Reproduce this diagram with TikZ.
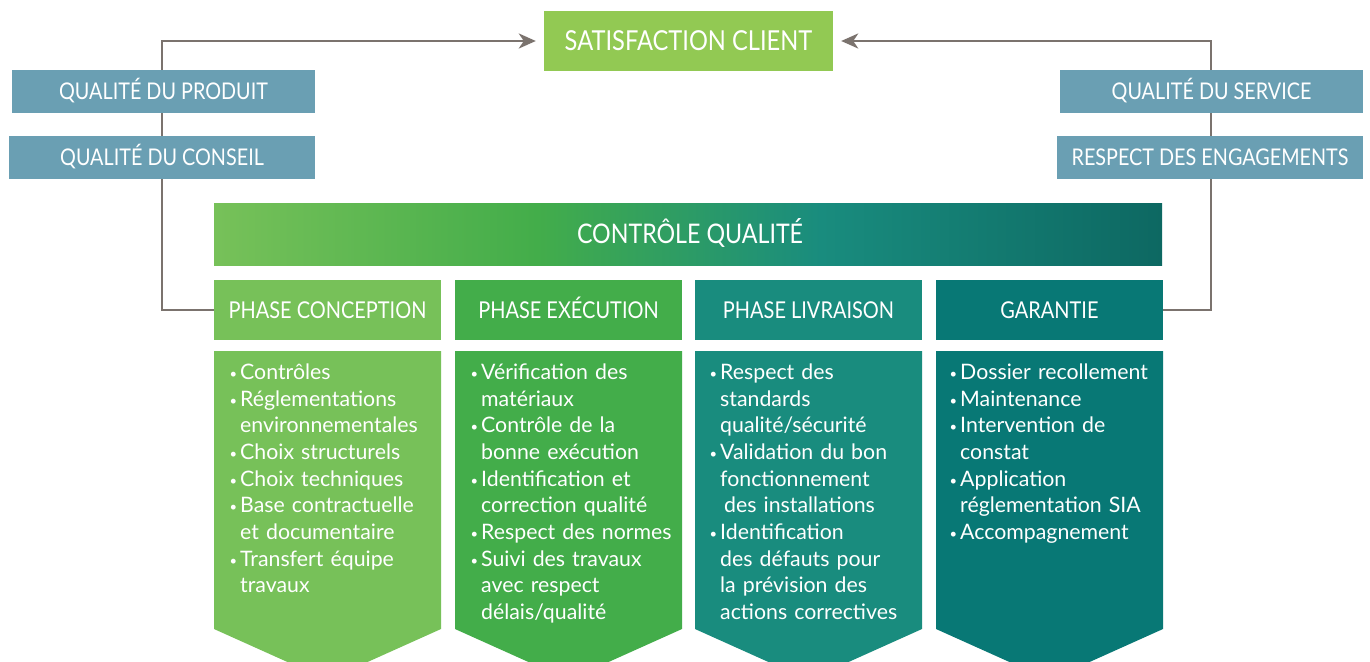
\documentclass[tikz,border=0pt]{standalone}
\usepackage{fontspec}
\setmainfont{Lato}
\newfontfamily\hdfont[FakeStretch=0.86]{Lato}
\usetikzlibrary{arrows.meta}
\definecolor{satc}{HTML}{92C953}
\definecolor{qbox}{HTML}{6A9FB3}
\definecolor{cA}{HTML}{77C159}
\definecolor{cB}{HTML}{43AD4A}
\definecolor{cC}{HTML}{198C7E}
\definecolor{cD}{HTML}{087875}
\definecolor{cE}{HTML}{0D6862}
\definecolor{linec}{HTML}{7B736E}
\pgfdeclarehorizontalshading{cqshade}{100bp}{color(0bp)=(cA); color(25bp)=(cA); color(42bp)=(cB); color(57bp)=(cC); color(75bp)=(cE); color(100bp)=(cE)}
\pgfdeclarelayer{back}
\pgfdeclarelayer{bg}
\pgfsetlayers{back,bg,main}
\newcommand\bul{\makebox[0pt][r]{\fontsize{13}{13}\selectfont\raisebox{1pt}{•}\hspace{3pt}}}
\begin{document}
\begin{tikzpicture}[x=1pt,y=-1pt,
  hd/.style={inner sep=0pt, text=white, align=center, text depth=0pt},
  qb/.style={hd, fill=qbox, minimum height=43pt, text height=16.5pt, font=\hdfont\fontsize{23}{23}\selectfont},
  ph/.style={hd, minimum width=227pt, minimum height=60pt, text height=16.6pt, font=\hdfont\fontsize{23.2}{23.2}\selectfont},
  body/.style={inner sep=0pt, text=white, text width=215pt, align=left, anchor=base west, font=\fontsize{21.3}{26.67}\selectfont},
  conn/.style={draw=linec, line width=2.5pt, -{Stealth[length=17pt,width=15pt,inset=5pt]}, shorten >=8pt}]
\clip (0,0) rectangle (1370,661);
\begin{pgfonlayer}{back}
\fill[white] (0,0) rectangle (1370,661);
\end{pgfonlayer}

\node[hd, fill=satc, minimum width=289pt, minimum height=60pt, text height=19.7pt, font=\hdfont\fontsize{27.5}{27.5}\selectfont] (sat) at (688.5,41) {SATISFACTION CLIENT};

\node[qb, minimum width=303pt] (qp) at (163.5,91.5) {QUALITÉ DU PRODUIT};
\node[qb, minimum width=306pt] (qc) at (162,157.5) {QUALITÉ DU CONSEIL};
\node[qb, minimum width=303pt] (qs) at (1211.5,91.5) {QUALITÉ DU SERVICE};
\node[qb, minimum width=306pt] (re) at (1210,157.5) {RESPECT DES ENGAGEMENTS};

\shade[shading=cqshade] (214,203) rectangle (1162,265);
\node[hd, text height=19.3pt, font=\hdfont\fontsize{27}{27}\selectfont] (cq) at (690,234) {CONTRÔLE QUALITÉ};

\node[ph, fill=cA] (p1) at (327.5,310) {PHASE CONCEPTION};
\node[ph, fill=cB] (p2) at (568.5,310) {PHASE EXÉCUTION};
\node[ph, fill=cC] (p3) at (808.5,310) {PHASE LIVRAISON};
\node[ph, fill=cD] (p4) at (1049.5,310) {GARANTIE};

\fill[cA] (214,351) -- (441,351) -- (441,629) -- (327.5,680) -- (214,629) -- cycle;
\fill[cB] (455,351) -- (682,351) -- (682,629) -- (568.5,680) -- (455,629) -- cycle;
\fill[cC] (695,351) -- (922,351) -- (922,629) -- (808.5,680) -- (695,629) -- cycle;
\fill[cD] (936,351) -- (1163,351) -- (1163,629) -- (1049.5,680) -- (936,629) -- cycle;

\node[body] (b1) at (240,379.5) {\bul Contrôles\\ \bul Réglementations\\ environnementales\\ \bul Choix structurels\\ \bul Choix techniques\\ \bul Base contractuelle\\ et documentaire\\ \bul Transfert équipe\\ travaux};
\node[body] (b2) at (481,379.5) {\bul Vérification des\\ matériaux\\ \bul Contrôle de la\\ bonne exécution\\ \bul Identification et\\ correction qualité\\ \bul Respect des normes\\ \bul Suivi des travaux\\ avec respect\\ délais/qualité};
\node[body] (b3) at (720,379.5) {\bul Respect des\\ standards\\ qualité/sécurité\\ \bul Validation du bon\\ fonctionnement\\ \hspace*{4pt}des installations\\ \bul Identification\\ des défauts pour\\ la prévision des\\ actions correctives};
\node[body] (b4) at (960,379.5) {\bul Dossier recollement\\ \bul Maintenance\\ \bul Intervention de\\ constat\\ \bul Application\\ réglementation SIA\\ \bul Accompagnement};

\begin{pgfonlayer}{bg}
\draw[conn] (p1.west) -- ++(-52,0) |- (sat.west);
\draw[conn] (p4.east) -- ++(48,0) |- (sat.east);
\end{pgfonlayer}
\end{tikzpicture}
\end{document}
